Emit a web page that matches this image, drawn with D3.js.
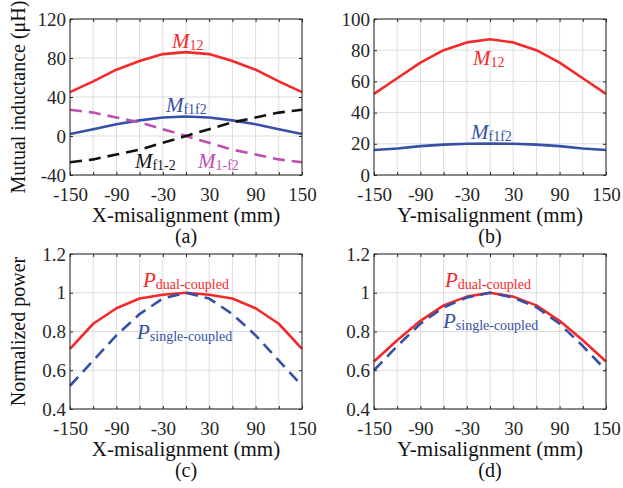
<!DOCTYPE html>
<html>
<head>
<meta charset="utf-8">
<script src="https://cdn.jsdelivr.net/npm/d3@7"></script>
<style>
  html, body { margin: 0; padding: 0; background: #fff; }
  svg, svg text { font-family: 'Liberation Serif', 'Times New Roman', Times, serif !important; }
</style>
</head>
<body>
<svg id="chart" width="623" height="488"></svg>
<script>
// ---------- data ----------
const misalignment = [-150, -120, -90, -60, -30, 0, 30, 60, 90, 120, 150];
const xTickLabels = [-150, -90, -30, 30, 90, 150];

// (a) X-misalignment, mutual inductance (uH)
const aM12   = [45, 56, 68, 77, 84, 86, 84, 77, 68, 56, 45];
const aMf1f2 = [2, 7, 12, 16, 19, 20, 19, 16, 12, 7, 2];
const aMf1_2 = [-27, -24, -19, -14, -7, 0, 7, 14, 19, 24, 27];
const aM1_f2 = [27, 24, 19, 14, 7, 0, -7, -14, -19, -24, -27];
const aYTicks = [-40, 0, 40, 80, 120];

// (b) Y-misalignment, mutual inductance (uH)
const bM12   = [52, 62, 72, 80, 85, 87, 85, 80, 72, 62, 52];
const bMf1f2 = [16, 17, 18.5, 19.5, 20, 20.2, 20, 19.5, 18.5, 17, 16];
const bYTicks = [0, 20, 40, 60, 80, 100];

// (c) X-misalignment, normalized power
const cDual   = [0.71, 0.84, 0.92, 0.97, 0.99, 1.0, 0.99, 0.97, 0.92, 0.84, 0.71];
const cSingle = [0.52, 0.65, 0.78, 0.89, 0.97, 1.0, 0.97, 0.89, 0.78, 0.65, 0.52];
// (d) Y-misalignment, normalized power
const dDual   = [0.645, 0.755, 0.855, 0.935, 0.98, 1.0, 0.98, 0.935, 0.855, 0.755, 0.645];
const dSingle = [0.60, 0.725, 0.84, 0.925, 0.975, 1.0, 0.975, 0.925, 0.84, 0.725, 0.60];
const pYTicks = [0.4, 0.6, 0.8, 1.0, 1.2];

// ---------- styles ----------
const RED = "#f42a2a", BLUE = "#3550a6", MAGENTA = "#bd4fb3", BLACK = "#111111";
const AXIS = "#262626", GRID = "#dcdcdc";
const FONT = "'Liberation Serif', 'Times New Roman', Times, serif";

const svg = d3.select("#chart");

function panel(cfg) {
  const g = svg.append("g");
  const x = d3.scaleLinear().domain([-150, 150]).range([cfg.x0, cfg.x1]);
  const y = d3.scaleLinear().domain(cfg.yDomain).range([cfg.y1, cfg.y0]);
  const xAll = misalignment;

  // grid
  g.append("g").selectAll("line").data(xAll).join("line")
    .attr("x1", d => x(d)).attr("x2", d => x(d))
    .attr("y1", cfg.y0).attr("y2", cfg.y1)
    .attr("stroke", GRID).attr("stroke-width", 1);
  g.append("g").selectAll("line").data(cfg.yTicks).join("line")
    .attr("x1", cfg.x0).attr("x2", cfg.x1)
    .attr("y1", d => y(d)).attr("y2", d => y(d))
    .attr("stroke", GRID).attr("stroke-width", 1);

  // series
  const line = d3.line().x((d, i) => x(xAll[i])).y(d => y(d));
  cfg.series.forEach(s => {
    g.append("path").datum(s.values)
      .attr("d", line)
      .attr("fill", "none")
      .attr("stroke", s.color)
      .attr("stroke-width", 2.6)
      .attr("stroke-dasharray", s.dash ? "12,7" : null)
      .attr("stroke-linejoin", "round");
  });

  // axes (ticks inward, box)
  const xAxisB = d3.axisBottom(x).tickValues(xAll).tickSize(-3).tickPadding(0)
    .tickFormat(d => xTickLabels.includes(d) ? d : "");
  const gxb = g.append("g").attr("transform", `translate(0,${cfg.y1})`).call(xAxisB)
    .attr("font-family", FONT);
  gxb.select(".domain").remove();
  gxb.selectAll("line").attr("stroke", AXIS);
  gxb.selectAll("text").attr("y", 26).attr("dy", null)
    .attr("font-size", 19).attr("fill", AXIS).style("font-family", FONT);

  const xAxisT = d3.axisTop(x).tickValues(xAll).tickSize(-3).tickFormat("");
  const gxt = g.append("g").attr("transform", `translate(0,${cfg.y0})`).call(xAxisT);
  gxt.select(".domain").remove();
  gxt.selectAll("line").attr("stroke", AXIS);

  const yAxisL = d3.axisLeft(y).tickValues(cfg.yTicks).tickSize(-3).tickPadding(5)
    .tickFormat(cfg.yFormat);
  const gyl = g.append("g").attr("transform", `translate(${cfg.x0},0)`).call(yAxisL)
    .attr("font-family", FONT);
  gyl.select(".domain").remove();
  gyl.selectAll("line").attr("stroke", AXIS);
  gyl.selectAll("text").attr("font-size", 19).attr("fill", AXIS)
    .style("font-family", FONT).attr("x", -4).attr("dy", "0.32em");

  const yAxisR = d3.axisRight(y).tickValues(cfg.yTicks).tickSize(-3).tickFormat("");
  const gyr = g.append("g").attr("transform", `translate(${cfg.x1},0)`).call(yAxisR);
  gyr.select(".domain").remove();
  gyr.selectAll("line").attr("stroke", AXIS);

  g.append("rect").attr("x", cfg.x0).attr("y", cfg.y0)
    .attr("width", cfg.x1 - cfg.x0).attr("height", cfg.y1 - cfg.y0)
    .attr("fill", "none").attr("stroke", AXIS).attr("stroke-width", 1);

  // x title & panel letter
  const cx = (cfg.x0 + cfg.x1) / 2;
  g.append("text").attr("x", cx).attr("y", cfg.y1 + 47)
    .attr("text-anchor", "middle").attr("font-size", 21).attr("fill", BLACK)
    .style("font-family", FONT).text(cfg.xTitle);
  g.append("text").attr("x", cx).attr("y", cfg.y1 + 68)
    .attr("text-anchor", "middle").attr("font-size", 20).attr("fill", BLACK)
    .style("font-family", FONT).text(cfg.letter);

  if (cfg.yTitle) {
    const cy = (cfg.y0 + cfg.y1) / 2;
    g.append("text").attr("transform", `translate(25,${cy}) rotate(-90)`)
      .attr("text-anchor", "middle").attr("font-size", 20).attr("fill", BLACK)
      .style("font-family", FONT).text(cfg.yTitle);
  }

  // annotations
  cfg.labels.forEach(l => {
    const t = g.append("text").attr("x", x(l.x)).attr("y", y(l.y))
      .attr("fill", l.color).style("font-family", FONT);
    t.append("tspan").attr("font-style", "italic").attr("font-size", 21).text(l.main);
    t.append("tspan").attr("font-size", 14).attr("dy", 2).text(l.sub);
  });
}

panel({
  x0: 70, x1: 302, y0: 19, y1: 175, yDomain: [-40, 120], yTicks: aYTicks,
  yFormat: d => d, xTitle: "X-misalignment (mm)", letter: "(a)",
  yTitle: "Mutual inductance (μH)",
  series: [
    { values: aM12, color: RED },
    { values: aMf1f2, color: BLUE },
    { values: aM1_f2, color: MAGENTA, dash: true },
    { values: aMf1_2, color: BLACK, dash: true }
  ],
  labels: [
    { x: -18, y: 90.3, main: "M", sub: "12", color: RED },
    { x: -26, y: 24.6, main: "M", sub: "f1f2", color: BLUE },
    { x: -66, y: -32.8, main: "M", sub: "f1-2", color: BLACK },
    { x: 15.5, y: -32.8, main: "M", sub: "1-f2", color: MAGENTA }
  ]
});

panel({
  x0: 374, x1: 606, y0: 19, y1: 175, yDomain: [0, 100], yTicks: bYTicks,
  yFormat: d => d, xTitle: "Y-misalignment (mm)", letter: "(b)",
  series: [
    { values: bM12, color: RED },
    { values: bMf1f2, color: BLUE }
  ],
  labels: [
    { x: -22, y: 70.5, main: "M", sub: "12", color: RED },
    { x: -24.6, y: 23, main: "M", sub: "f1f2", color: BLUE }
  ]
});

panel({
  x0: 70, x1: 302, y0: 254, y1: 409, yDomain: [0.4, 1.2], yTicks: pYTicks,
  yFormat: d => d3.format("~g")(d), xTitle: "X-misalignment (mm)", letter: "(c)",
  yTitle: "Normalized power",
  series: [
    { values: cDual, color: RED },
    { values: cSingle, color: BLUE, dash: true }
  ],
  labels: [
    { x: -55.6, y: 1.03, main: "P", sub: "dual-coupled", color: RED },
    { x: -63.4, y: 0.761, main: "P", sub: "single-coupled", color: BLUE }
  ]
});

panel({
  x0: 374, x1: 606, y0: 254, y1: 409, yDomain: [0.4, 1.2], yTicks: pYTicks,
  yFormat: d => d3.format("~g")(d), xTitle: "Y-misalignment (mm)", letter: "(d)",
  series: [
    { values: dDual, color: RED },
    { values: dSingle, color: BLUE, dash: true }
  ],
  labels: [
    { x: -58.2, y: 1.03, main: "P", sub: "dual-coupled", color: RED },
    { x: -60.8, y: 0.818, main: "P", sub: "single-coupled", color: BLUE }
  ]
});
</script>
</body>
</html>
